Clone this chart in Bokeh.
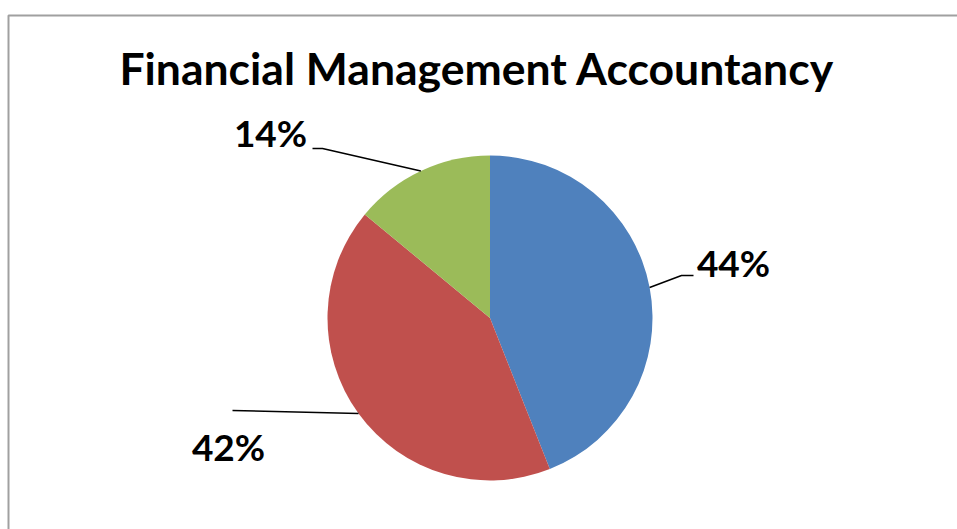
import math
from bokeh.plotting import figure
from bokeh.models import Range1d, ColumnDataSource
from bokeh.core.properties import value
from bokeh.embed import file_html
from bokeh.resources import INLINE

# ---- data ----
title_text = "Financial Management Accountancy"
categories = ["Blue", "Red", "Green"]
shares = [44, 42, 14]
labels = ["44%", "42%", "14%"]
colors = ["#4F81BD", "#C0504D", "#9BBB59"]

# ---- layout (pixels, y measured from top) ----
W, H = 957, 529
cx, cy, R = 489.5, 317.5, 162.5
label_pos = [(733, 262), (228, 446), (270, 132)]
elbows = [(681, 275), (232, 410), (322, 148)]
ends = [(693, 275), (232, 410), (312, 148)]

def Y(y):
    return H - y

p = figure(width=W, height=H, x_range=Range1d(0, W), y_range=Range1d(0, H),
           output_backend="svg", toolbar_location=None, min_border=0)
p.axis.visible = False
p.grid.visible = False
p.outline_line_color = None
p.background_fill_color = "white"

# chart border (extends off the page right and bottom)
p.line([8, 8, W + 10], [Y(H + 10), Y(15), Y(15)], line_color="#A0A0A0", line_width=2)

total = float(sum(shares))
starts, endsang, mids = [], [], []
acc = 0.0
for s in shares:
    a0 = acc / total
    acc += s
    a1 = acc / total
    starts.append(math.pi / 2 - a0 * 2 * math.pi)
    endsang.append(math.pi / 2 - a1 * 2 * math.pi)
    mids.append(math.pi / 2 - (a0 + a1) / 2 * 2 * math.pi)

src = ColumnDataSource(dict(x=[cx] * 3, y=[Y(cy)] * 3, start=starts, end=endsang,
                            color=colors, cat=categories))
p.wedge(x="x", y="y", radius=R, start_angle="start", end_angle="end",
        direction="clock", fill_color="color", line_color=None, source=src)

# leader lines
for i, m in enumerate(mids):
    px = cx + R * math.cos(m)
    py = Y(cy) + R * math.sin(m)
    ex, ey = elbows[i]
    tx, ty = ends[i]
    p.line([px, ex, tx], [py, Y(ey), Y(ty)], line_color="black", line_width=1.5)

# labels
p.text(x=[lp[0] for lp in label_pos], y=[Y(lp[1]) for lp in label_pos], text=labels,
       text_font=value("Lato"), text_font_style="bold", text_font_size="37px",
       text_align="center", text_baseline="alphabetic", text_color="black")

# title
p.text(x=[476.5], y=[Y(67)], text=[title_text], text_font=value("Lato"),
       text_font_style="bold", text_font_size="44.5px", text_align="center",
       text_baseline="alphabetic", text_color="black")

open("out.html", "w").write(file_html(p, INLINE))
